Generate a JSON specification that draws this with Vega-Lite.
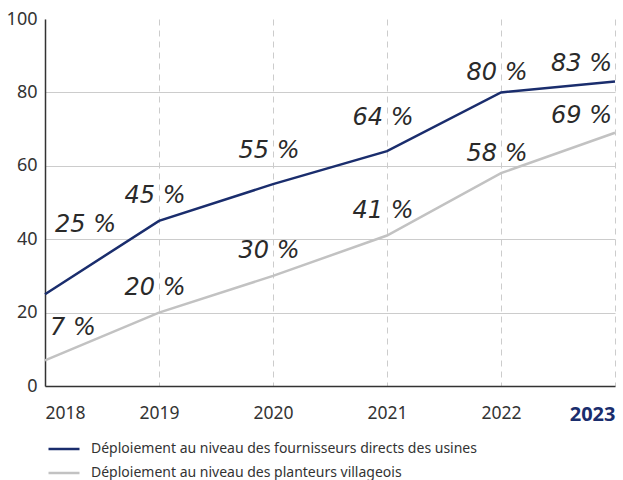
{
  "$schema": "https://vega.github.io/schema/vega-lite/v6.json",
  "width": 570,
  "height": 367,
  "autosize": {"type": "none"},
  "padding": {"left": 45, "top": 19, "right": 8, "bottom": 94},
  "background": "white",
  "config": {
    "view": {"stroke": null},
    "font": "Noto Sans"
  },
  "data": {
    "values": [
      {"year": 2018, "series": "Déploiement au niveau des fournisseurs directs des usines", "value": 25, "label": "25 %"},
      {"year": 2019, "series": "Déploiement au niveau des fournisseurs directs des usines", "value": 45, "label": "45 %"},
      {"year": 2020, "series": "Déploiement au niveau des fournisseurs directs des usines", "value": 55, "label": "55 %"},
      {"year": 2021, "series": "Déploiement au niveau des fournisseurs directs des usines", "value": 64, "label": "64 %"},
      {"year": 2022, "series": "Déploiement au niveau des fournisseurs directs des usines", "value": 80, "label": "80 %"},
      {"year": 2023, "series": "Déploiement au niveau des fournisseurs directs des usines", "value": 83, "label": "83 %"},
      {"year": 2018, "series": "Déploiement au niveau des planteurs villageois", "value": 7, "label": "7 %"},
      {"year": 2019, "series": "Déploiement au niveau des planteurs villageois", "value": 20, "label": "20 %"},
      {"year": 2020, "series": "Déploiement au niveau des planteurs villageois", "value": 30, "label": "30 %"},
      {"year": 2021, "series": "Déploiement au niveau des planteurs villageois", "value": 41, "label": "41 %"},
      {"year": 2022, "series": "Déploiement au niveau des planteurs villageois", "value": 58, "label": "58 %"},
      {"year": 2023, "series": "Déploiement au niveau des planteurs villageois", "value": 69, "label": "69 %"}
    ]
  },
  "encoding": {
    "x": {
      "field": "year", "type": "quantitative",
      "scale": {"domain": [2018, 2023], "nice": false, "zero": false},
      "axis": {
        "title": null, "values": [2018, 2019, 2020, 2021, 2022, 2023], "format": "d",
        "ticks": false, "domainColor": "#333333", "domainWidth": 1.5,
        "grid": true, "gridDash": [6, 5], "gridColor": "#cccccc", "gridWidth": 1,
        "labelPadding": 18, "labelFlush": true, "labelFontSize": {"condition": {"test": "datum.value == 2023", "value": 20}, "value": 17.5},
        "labelFont": "Noto Sans",
        "labelColor": {"condition": {"test": "datum.value == 2023", "value": "#1a2d6d"}, "value": "#333333"},
        "labelFontWeight": {"condition": {"test": "datum.value == 2023", "value": "bold"}, "value": "normal"}
      }
    },
    "y": {
      "field": "value", "type": "quantitative",
      "scale": {"domain": [0, 100], "nice": false},
      "axis": {
        "title": null, "values": [0, 20, 40, 60, 80, 100], "ticks": false,
        "domainColor": "#333333", "domainWidth": 1.5,
        "grid": true, "gridColor": "#cccccc", "gridWidth": 1.2,
        "gridOpacity": {"condition": {"test": "datum.value == 0 || datum.value == 100", "value": 0}, "value": 1},
        "labelPadding": 8, "labelFontSize": 18, "labelColor": "#333333", "labelFont": "Noto Sans"
      }
    }
  },
  "layer": [
    {
      "mark": {"type": "line", "strokeWidth": 2.5},
      "encoding": {
        "color": {
          "field": "series", "type": "nominal",
          "scale": {
            "domain": ["Déploiement au niveau des fournisseurs directs des usines", "Déploiement au niveau des planteurs villageois"],
            "range": ["#1a2d6d", "#c2c2c2"]
          },
          "legend": {
            "title": null, "orient": "none", "legendX": 2, "legendY": 413,
            "symbolType": "stroke", "symbolSize": 961, "symbolStrokeWidth": 2.5,
            "labelFontSize": 14, "labelColor": "#333333", "labelFont": "Noto Sans", "labelLimit": 0,
            "rowPadding": -9, "labelOffset": 10
          }
        }
      }
    },
    {
      "transform": [{"filter": "(datum.year == 2019) || (datum.year > 2019 && datum.year < 2022 && datum.value < 50)"}],
      "mark": {"type": "text", "font": "DejaVu Sans", "fontStyle": "italic", "fontSize": 24, "color": "#2a2a2a", "align": "center", "baseline": "middle", "dx": -4, "dy": -25},
      "encoding": {"text": {"field": "label"}}
    },
    {
      "transform": [{"filter": "datum.year > 2019 && datum.year < 2022 && datum.value > 50"}],
      "mark": {"type": "text", "font": "DejaVu Sans", "fontStyle": "italic", "fontSize": 24, "color": "#2a2a2a", "align": "center", "baseline": "middle", "dx": -4, "dy": -33},
      "encoding": {"text": {"field": "label"}}
    },
    {
      "transform": [{"filter": "datum.year == 2022"}],
      "mark": {"type": "text", "font": "DejaVu Sans", "fontStyle": "italic", "fontSize": 24, "color": "#2a2a2a", "align": "center", "baseline": "middle", "dx": -4, "dy": -19},
      "encoding": {"text": {"field": "label"}}
    },
    {
      "transform": [{"filter": "datum.year == 2023"}],
      "mark": {"type": "text", "font": "DejaVu Sans", "fontStyle": "italic", "fontSize": 24, "color": "#2a2a2a", "align": "right", "baseline": "middle", "dx": -3, "dy": -17},
      "encoding": {"text": {"field": "label"}}
    },
    {
      "transform": [{"filter": "datum.year == 2018 && datum.value == 25"}],
      "mark": {"type": "text", "font": "DejaVu Sans", "fontStyle": "italic", "fontSize": 24, "color": "#2a2a2a", "align": "left", "baseline": "middle", "dx": 10, "dy": -69},
      "encoding": {"text": {"field": "label"}}
    },
    {
      "transform": [{"filter": "datum.year == 2018 && datum.value == 7"}],
      "mark": {"type": "text", "font": "DejaVu Sans", "fontStyle": "italic", "fontSize": 24, "color": "#2a2a2a", "align": "left", "baseline": "middle", "dx": 5, "dy": -32},
      "encoding": {"text": {"field": "label"}}
    }
  ]
}
